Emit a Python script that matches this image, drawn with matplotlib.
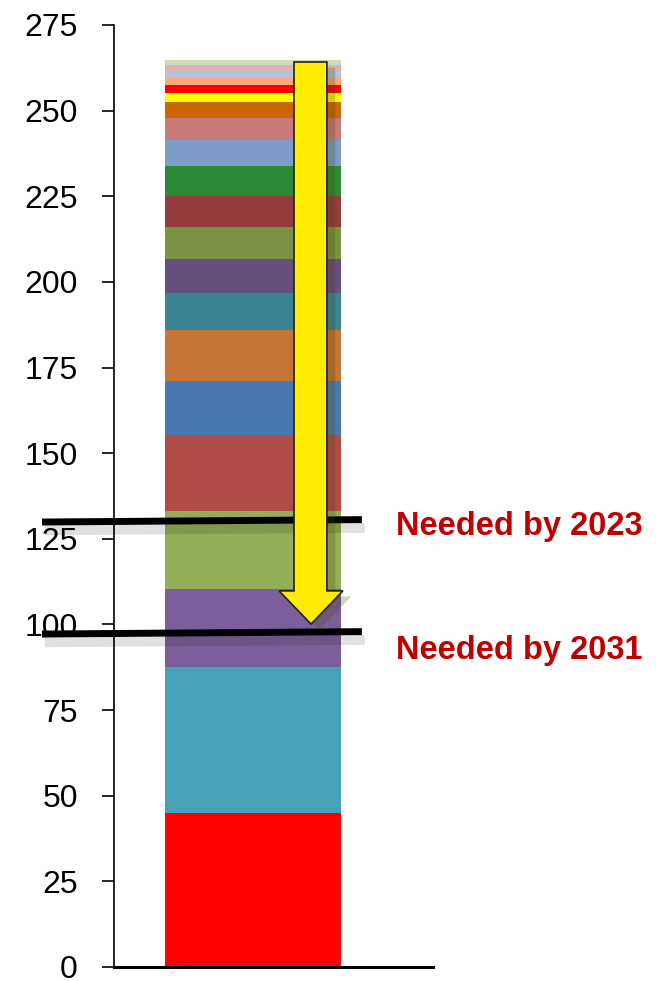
import matplotlib
matplotlib.use("Agg")
import matplotlib.pyplot as plt
import matplotlib.patheffects as pe
from matplotlib.patches import Polygon
import numpy as np

# stacked segments, bottom to top
values = [45, 42.6, 22.7, 22.8, 22.2, 15.8, 14.9, 10.8, 9.9, 9.3, 9.2,
          8.6, 7.6, 6.4, 4.7, 2.6, 2.4, 2.0, 2.0, 1.8, 1.4]
colors = ['#ff0000', '#47a1b7', '#7b5f9b', '#92ae57', '#b04c48', '#4a79b1',
          '#c57535', '#3a8496', '#644f7e', '#7b9244', '#943c3b', '#2b8a36',
          '#7e9cc8', '#c97b7b', '#cc6600', '#ffff00', '#ff0000', '#f9a87a',
          '#b3c3dd', '#dbb3b3', '#cfdcbb']
yticks = list(range(0, 276, 25))
need_labels = ['Needed by 2023', 'Needed by 2031']
need_levels = [130.2, 97.5]

fig = plt.figure(figsize=(6.67, 9.81), dpi=100)
ax = fig.add_axes([114 / 667, 14 / 981, 319 / 667, 942 / 981])

bottoms = np.concatenate([[0], np.cumsum(values)[:-1]])
ax.bar([0] * len(values), values, bottom=bottoms, width=1.0, color=colors,
       linewidth=0, zorder=2)

ax.set_xlim(-0.79, 1.023)
ax.set_ylim(0, 275)
ax.set_yticks(yticks)
ax.set_xticks([])
for s in ['top', 'right']:
    ax.spines[s].set_visible(False)
ax.spines['left'].set_linewidth(1.2)
ax.spines['bottom'].set_linewidth(2.2)
ax.spines['bottom'].set_path_effects([pe.SimplePatchShadow(offset=(0, -4), alpha=0.12), pe.Normal()])
ax.tick_params(axis='y', length=9, width=1.2, pad=17, labelsize=23)
for t in ax.get_yticklabels():
    t.set_family(['Liberation Sans', 'DejaVu Sans'])

# target lines
shadow = [pe.SimpleLineShadow(offset=(2, -6), alpha=0.12, linewidth=7), pe.Normal()]
for lvl, lab, ty in zip(need_levels, need_labels, [526, 650]):
    ax.plot([-1.199, 0.619], [lvl - 0.3, lvl + 0.4], color='black', lw=5,
            solid_capstyle='butt', clip_on=False, zorder=5, path_effects=shadow)
    fig.text(396 / 667, 1 - ty / 981, lab, color='#c00000', fontsize=23.5,
             fontweight='bold', va='center', ha='left',
             family=['Liberation Sans', 'DejaVu Sans'])

# yellow arrow
x0, x1 = 0.233, 0.42
hx0, hx1, tipx = 0.148, 0.511, 0.33
ytop, yhead, ytip = 264.2, 109.8, 100.1
arrow = Polygon([[x0, ytop], [x1, ytop], [x1, yhead], [hx1, yhead], [tipx, ytip],
                 [hx0, yhead], [x0, yhead]], closed=True, facecolor='#ffec00',
                edgecolor='#222222', lw=1.2, zorder=6,
                path_effects=[pe.SimplePatchShadow(offset=(6, -4), alpha=0.25), pe.Normal()])
ax.add_patch(arrow)

fig.savefig('out.png', dpi=100)
